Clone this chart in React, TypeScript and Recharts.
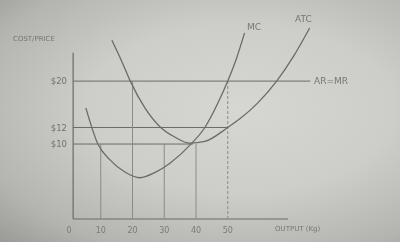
import React from 'react';
import { LineChart, Line, XAxis, YAxis, ReferenceLine } from 'recharts';

// marginal cost curve (output kg, cost $)
const mcOutput = [5.3, 9.1, 12.9, 17.6, 22.3, 27, 31.8, 38.7, 42.8, 46.9, 50, 52.8, 55.3];
const mcCost = [14.9, 10, 8.4, 7.35, 6.9, 7.3, 8.1, 10.1, 12, 15.7, 20, 25.8, 34];

// average total cost curve
const atcOutput = [13.5, 16.7, 19.3, 23.9, 28.9, 33.3, 38.1, 42.8, 50, 53.8, 59.4, 65.4, 70.8, 75.8];
const atcCost = [31.4, 24.7, 20, 14.9, 12, 10.8, 10.1, 10.3, 12, 13.2, 15.7, 20, 26.4, 35.9];

// price guide lines and where they stop
const priceTicks = [10, 12, 20];
const priceLineEnds = [39, 50, 76];

// output guide lines and the price they reach
const outputTicks = [0, 10, 20, 30, 40, 50];
const outputMarks = [10, 20, 30, 40, 50];
const outputMarkTops = [10, 20, 10, 10, 20];

const Y_MIN = 4.38;
const Y_MAX = 37.1;
const Y_AXIS_TOP = 27.3;
const X_AXIS_START = 1.3;
const X_AXIS_END = 69;

const mcData = mcOutput.map((x, i) => ({ x, y: mcCost[i] }));
const atcData = atcOutput.map((x, i) => ({ x, y: atcCost[i] }));

const ink = '#6b6b68';
const faint = '#8a8a86';
const font = '"DejaVu Sans", sans-serif';

const lbl = (left: number, top: number, size = 8): React.CSSProperties => ({
    position: 'absolute', left, top, fontSize: size, color: '#767672', fontFamily: font, whiteSpace: 'nowrap', lineHeight: 1
});

const App: React.FC = () => {
    return (
        <div style={{
            position: 'fixed', top: 0, left: 0, width: 400, height: 242, overflow: 'hidden',
            background: 'radial-gradient(ellipse at 60% 45%, #d6d6d2 0%, #cdcdc9 45%, #b4b4b0 80%, #9a9a96 100%)'
        }}>
            <LineChart width={400} height={242} margin={{ top: 25, right: 77, bottom: 3, left: 0 }}>
                <XAxis
                    type="number"
                    dataKey="x"
                    domain={[0, 80]}
                    ticks={outputTicks}
                    allowDataOverflow
                    axisLine={false}
                    tickLine={false}
                    height={20}
                    tick={{ fill: '#7a7a76', fontSize: 8, fontFamily: font }}
                />
                <YAxis
                    type="number"
                    dataKey="y"
                    scale="log"
                    domain={[Y_MIN, Y_MAX]}
                    ticks={priceTicks}
                    allowDataOverflow
                    axisLine={false}
                    tickLine={false}
                    tickSize={0}
                    tickMargin={2}
                    width={69}
                    tickFormatter={(v: number) => `$${v}`}
                    tick={{ fill: '#727270', fontSize: 8.5, fontFamily: font }}
                />
                <ReferenceLine segment={[{ x: X_AXIS_START, y: Y_MIN }, { x: X_AXIS_START, y: Y_AXIS_TOP }]} stroke={ink} strokeWidth={1.2} />
                <ReferenceLine segment={[{ x: X_AXIS_START, y: Y_MIN }, { x: X_AXIS_END, y: Y_MIN }]} stroke={ink} strokeWidth={1.2} />
                {priceTicks.map((p, i) => (
                    <ReferenceLine key={`p-${p}`} segment={[{ x: X_AXIS_START, y: p }, { x: priceLineEnds[i], y: p }]} stroke={ink} strokeWidth={1} />
                ))}
                {outputMarks.map((q, i) => (
                    <ReferenceLine
                        key={`q-${q}`}
                        segment={[{ x: q, y: Y_MIN }, { x: q, y: outputMarkTops[i] }]}
                        stroke={faint}
                        strokeWidth={1}
                        strokeDasharray={q === 50 ? '3 2' : undefined}
                    />
                ))}
                <Line data={mcData} dataKey="y" type="monotone" stroke={ink} strokeWidth={1.3} dot={false} isAnimationActive={false} />
                <Line data={atcData} dataKey="y" type="monotone" stroke={ink} strokeWidth={1.3} dot={false} isAnimationActive={false} />
            </LineChart>
            <div style={lbl(13, 36, 7)}>COST/PRICE</div>
            <div style={lbl(247, 23, 9)}>MC</div>
            <div style={lbl(295, 15, 9)}>ATC</div>
            <div style={lbl(314, 77, 9)}>AR=MR</div>
            <div style={lbl(275, 226, 7)}>OUTPUT (Kg)</div>
        </div>
    );
};

export default App;
